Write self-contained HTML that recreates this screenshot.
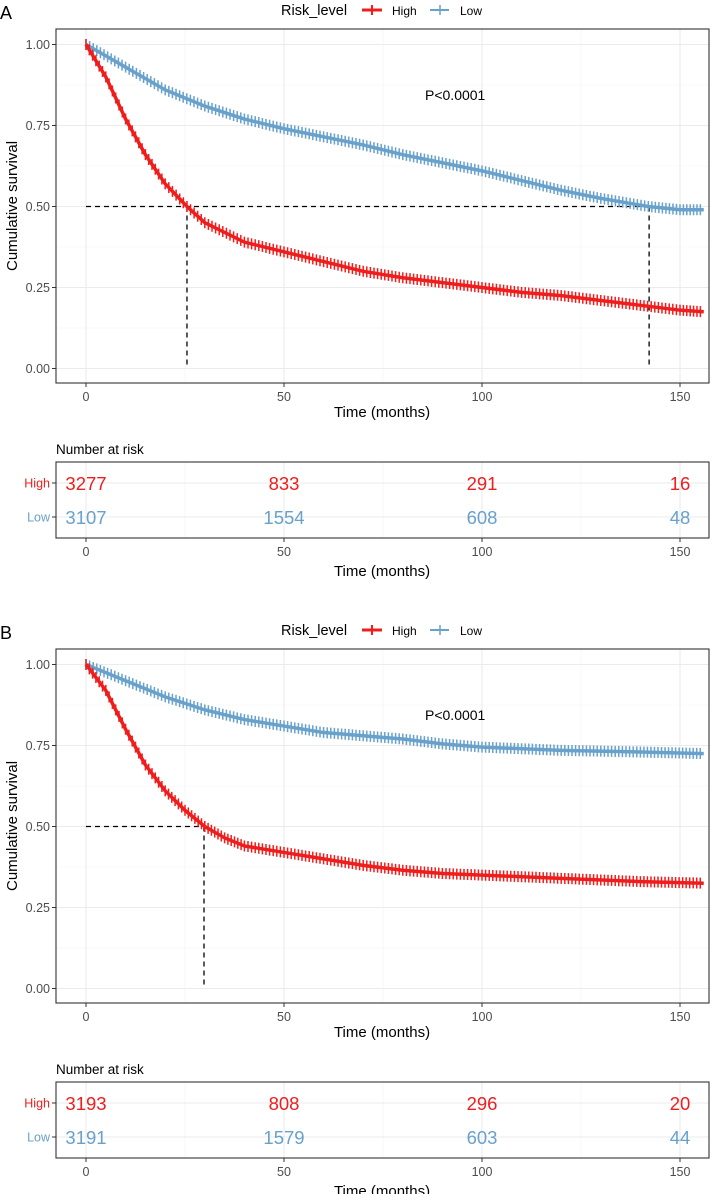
<!DOCTYPE html>
<html><head><meta charset="utf-8"><style>
html,body{margin:0;padding:0;background:#fff;}
svg{display:block;font-family:"Liberation Sans",Arial,sans-serif;}
</style></head><body>
<svg id="fig" width="712" height="1194" viewBox="0 0 712 1194"></svg>
<script>
// Panel A data
const timesA_high = [0,5,10,15,20,25.5,30,40,50,60,70,80,90,100,110,120,130,140,150,156];
const survA_high = [1.0,0.9,0.77,0.66,0.57,0.5,0.45,0.39,0.36,0.33,0.30,0.28,0.265,0.25,0.235,0.225,0.21,0.195,0.18,0.175];
const timesA_low = [0,10,20,30,40,50,60,70,80,90,100,110,120,130,142,150,156];
const survA_low = [1.0,0.93,0.86,0.81,0.77,0.74,0.715,0.69,0.66,0.635,0.61,0.58,0.55,0.525,0.5,0.49,0.49];
const mediansA = [25.5,142.2];
const riskA_high = [3277,833,291,16];
const riskA_low = [3107,1554,608,48];
// Panel B data
const timesB_high = [0,5,10,15,20,25,30,35,40,50,60,70,80,90,100,120,140,156];
const survB_high = [1.0,0.92,0.8,0.69,0.61,0.55,0.5,0.465,0.44,0.42,0.40,0.38,0.365,0.355,0.35,0.34,0.33,0.325];
const timesB_low = [0,10,20,30,40,50,60,70,80,90,100,120,140,156];
const survB_low = [1.0,0.95,0.9,0.86,0.83,0.81,0.79,0.78,0.77,0.755,0.745,0.735,0.73,0.725];
const mediansB = [29.8];
const riskB_high = [3193,808,296,20];
const riskB_low = [3191,1579,603,44];
const riskTimes = [0,50,100,150];
const xTicks = [0,50,100,150];
const yTicks = [0,0.25,0.5,0.75,1.0];

const NS='http://www.w3.org/2000/svg';
const svg=document.getElementById('fig');
const RED='#f01d1d', BLUE='#68a1cb';
function mk(tag,attrs,parent){const e=document.createElementNS(NS,tag);for(const k in attrs)e.setAttribute(k,attrs[k]);(parent||svg).appendChild(e);return e;}
function txt(s,attrs,parent){const e=mk('text',attrs,parent);e.textContent=s;return e;}
const X=t=>86+t*3.96;
function drawPanel(oy,letter,tH,sH,tL,sL,meds,rH,rL,pfx){
  const g=mk('g',{});
  
  
  const Y=s=>oy+368.5-s*324;
  const L=56,R=709,T=oy+29,B=oy+383;
  const lt=txt(letter,{x:0,y:oy+19,'font-size':18,fill:'#000'},g);
  
  const lg=mk('g',{},g);
  
  txt('Risk_level',{x:281,y:oy+15,'font-size':14.5,fill:'#000'},lg);
  mk('line',{x1:362,x2:382,y1:oy+10,y2:oy+10,stroke:RED,'stroke-width':3},lg);
  mk('line',{x1:372,x2:372,y1:oy+5,y2:oy+15,stroke:RED,'stroke-width':2},lg);
  txt('High',{x:392,y:oy+15,'font-size':12,fill:'#000'},lg);
  mk('line',{x1:430,x2:449,y1:oy+10,y2:oy+10,stroke:BLUE,'stroke-width':2},lg);
  mk('line',{x1:440,x2:440,y1:oy+5,y2:oy+15,stroke:BLUE,'stroke-width':1.5},lg);
  txt('Low',{x:460,y:oy+15,'font-size':12,fill:'#000'},lg);
  [12.5,37.5,62.5,87.5].forEach(v=>mk('line',{x1:L,x2:R,y1:Y(v/100),y2:Y(v/100),stroke:'#f2f2f2','stroke-width':0.6},g));
  [25,75,125].forEach(v=>mk('line',{x1:X(v),x2:X(v),y1:T,y2:B,stroke:'#f2f2f2','stroke-width':0.6},g));
  yTicks.forEach(v=>mk('line',{x1:L,x2:R,y1:Y(v),y2:Y(v),stroke:'#ebebeb','stroke-width':1.1},g));
  xTicks.forEach(v=>mk('line',{x1:X(v),x2:X(v),y1:T,y2:B,stroke:'#ebebeb','stroke-width':1.1},g));
  yTicks.forEach(v=>{mk('line',{x1:L-4,x2:L,y1:Y(v),y2:Y(v),stroke:'#333'},g);
    txt(v.toFixed(2),{x:L-6,y:Y(v)+4.5,'font-size':12.5,fill:'#4d4d4d','text-anchor':'end'},g);});
  xTicks.forEach(v=>{mk('line',{x1:X(v),x2:X(v),y1:B,y2:B+4,stroke:'#333'},g);
    txt(String(v),{x:X(v),y:B+18,'font-size':12.5,fill:'#4d4d4d','text-anchor':'middle'},g);});
  const yt=txt('Cumulative survival',{x:0,y:0,'font-size':15,fill:'#000','text-anchor':'middle',transform:`translate(17,${oy+206}) rotate(-90)`},g);
  
  const xt=txt('Time (months)',{x:382,y:oy+417,'font-size':15,fill:'#000','text-anchor':'middle'},g);
  
  const mx=Math.max(...meds);
  mk('line',{x1:X(0),x2:X(mx),y1:Y(0.5),y2:Y(0.5),stroke:'#000','stroke-width':1.3,'stroke-dasharray':'5,4'},g);
  meds.forEach(m=>mk('line',{x1:X(m),x2:X(m),y1:Y(0.5),y2:Y(0),stroke:'#000','stroke-width':1.3,'stroke-dasharray':'5,4'},g));
  function curve(ts,ss,col,name){
    const cg=mk('g',{},g);
    
    let d=`M${X(ts[0])},${Y(ss[0])}`;
    for(let i=1;i<ts.length;i++)d+=` L${X(ts[i])},${Y(ss[i])}`;
    mk('path',{d:d,fill:'none',stroke:col,'stroke-width':3.5},cg);
    let tp='';
    for(let i=1;i<ts.length;i++){
      const n=Math.max(1,Math.round((ts[i]-ts[i-1])/0.9));
      for(let k=0;k<n;k++){const f=k/n;const t=ts[i-1]+f*(ts[i]-ts[i-1]);const s=ss[i-1]+f*(ss[i]-ss[i-1]);
        tp+=`M${X(t)},${Y(s)-5.5} v11 `;}
    }
    mk('path',{d:tp,stroke:col,'stroke-width':1.5,fill:'none'},cg);
  }
  curve(tL,sL,BLUE,pfx+'-low-curve');
  curve(tH,sH,RED,pfx+'-high-curve');
  const pv=txt('P<0.0001',{x:425,y:oy+100,'font-size':14,fill:'#000'},g);
  
  const fr=mk('rect',{x:L,y:T,width:R-L,height:B-T,fill:'none',stroke:'#333','stroke-width':1.1},g);
  
  const rg=mk('g',{},g);
  
  const rT=oy+462,rB=oy+538,rowH=oy+483,rowL=oy+517;
  txt('Number at risk',{x:56,y:oy+454,'font-size':13.5,fill:'#000'},rg);
  [25,75,125].forEach(v=>mk('line',{x1:X(v),x2:X(v),y1:rT,y2:rB,stroke:'#f2f2f2','stroke-width':0.6},rg));
  xTicks.forEach(v=>mk('line',{x1:X(v),x2:X(v),y1:rT,y2:rB,stroke:'#ebebeb','stroke-width':1.1},rg));
  [rowH,rowL].forEach(y=>mk('line',{x1:L,x2:R,y1:y,y2:y,stroke:'#ebebeb','stroke-width':1.1},rg));
  mk('rect',{x:L,y:rT,width:R-L,height:rB-rT,fill:'none',stroke:'#333','stroke-width':1.1},rg);
  mk('line',{x1:L-4,x2:L,y1:rowH,y2:rowH,stroke:'#333'},rg);
  mk('line',{x1:L-4,x2:L,y1:rowL,y2:rowL,stroke:'#333'},rg);
  txt('High',{x:L-6,y:rowH+4.5,'font-size':12.5,fill:RED,'text-anchor':'end'},rg);
  txt('Low',{x:L-6,y:rowL+4.5,'font-size':12.5,fill:BLUE,'text-anchor':'end'},rg);
  riskTimes.forEach((t,i)=>{
    txt(String(rH[i]),{x:X(t),y:rowH+7,'font-size':18.5,fill:RED,'text-anchor':'middle'},rg);
    txt(String(rL[i]),{x:X(t),y:rowL+7,'font-size':18.5,fill:BLUE,'text-anchor':'middle'},rg);
  });
  xTicks.forEach(v=>{mk('line',{x1:X(v),x2:X(v),y1:rB,y2:rB+4,stroke:'#333'},rg);
    txt(String(v),{x:X(v),y:rB+18,'font-size':12.5,fill:'#4d4d4d','text-anchor':'middle'},rg);});
  txt('Time (months)',{x:382,y:oy+576,'font-size':15,fill:'#000','text-anchor':'middle'},rg);
}
drawPanel(0,'A',timesA_high,survA_high,timesA_low,survA_low,mediansA,riskA_high,riskA_low,'panel-a');
drawPanel(620,'B',timesB_high,survB_high,timesB_low,survB_low,mediansB,riskB_high,riskB_low,'panel-b');
</script>
</body></html>
